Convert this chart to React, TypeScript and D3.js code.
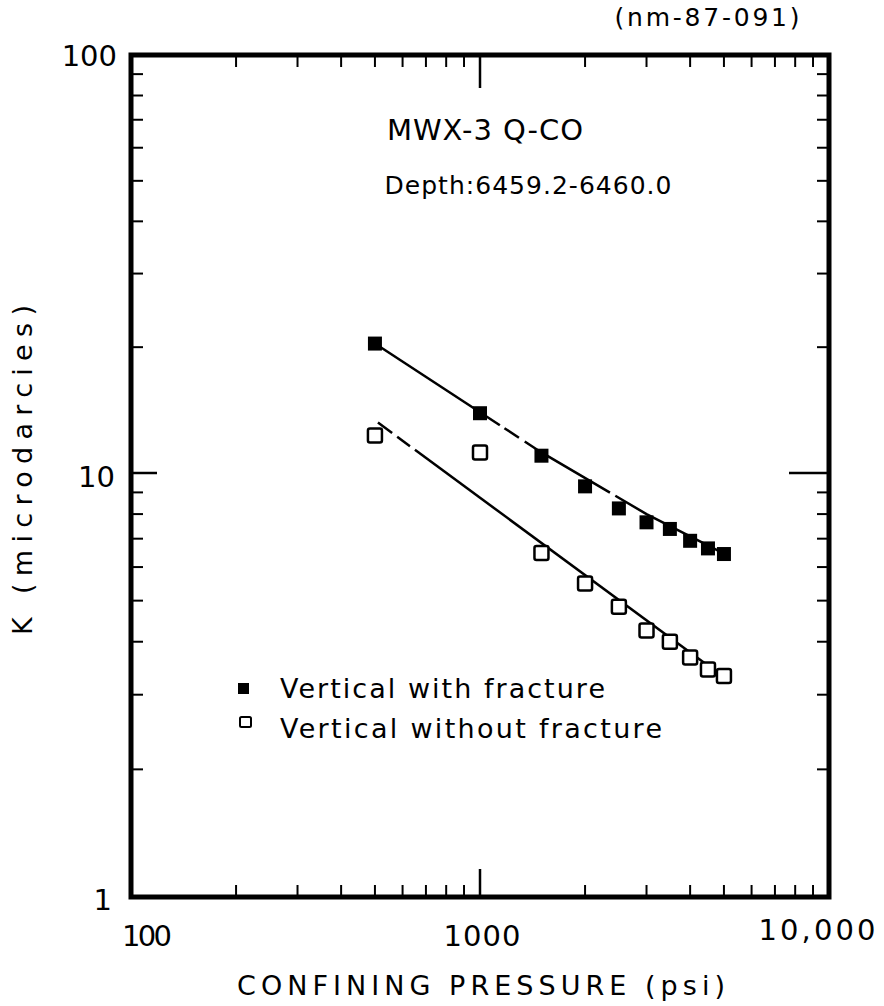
import React from "react";
import * as d3 from "d3";

// Confining pressure (psi) at which each permeability was measured
const pressures = [500, 1000, 1500, 2000, 2500, 3000, 3500, 4000, 4500, 5000];
// Permeability K (microdarcies), vertical plug with fracture
const withFracture = [20.4, 13.9, 11.0, 9.3, 8.25, 7.65, 7.38, 6.92, 6.64, 6.44];
// Permeability K (microdarcies), vertical plug without fracture
const withoutFracture = [12.3, 11.2, 6.48, 5.49, 4.84, 4.25, 4.0, 3.67, 3.44, 3.32];

// Hand-drawn trend lines: [pressure, K]
const fitWith: [number, number][] = [[500, 20.4], [1500, 11.2], [3000, 8.0], [5100, 6.4]];
const fitWithout: [number, number][] = [[510, 13.2], [4800, 3.38]];
// Pressure ranges where the pen lifted off the trend lines
const gapsWith: [number, number][] = [[1140, 1175], [1293, 1343], [2357, 2442]];
const gapsWithout: [number, number][] = [[560, 579], [630, 651]];

const xTickLabels = [
  { v: 100, t: "100" },
  { v: 1000, t: "1000" },
  { v: 10000, t: "10,000" },
];
const yTickLabels = [
  { v: 100, t: "100" },
  { v: 10, t: "10" },
  { v: 1, t: "1" },
];

const FONT = "'DejaVu Sans', sans-serif";

type Pt = [number, number];

// Split a pixel polyline into pieces, leaving out the given x-intervals.
function splitPolyline(pts: Pt[], gaps: [number, number][]): Pt[][] {
  const cuts = gaps.slice().sort((a, b) => a[0] - b[0]);
  const yAt = (xv: number): number => {
    for (let i = 0; i < pts.length - 1; i++) {
      const [x0, y0] = pts[i];
      const [x1, y1] = pts[i + 1];
      if (xv >= x0 && xv <= x1) return y0 + ((xv - x0) / (x1 - x0)) * (y1 - y0);
    }
    return pts[pts.length - 1][1];
  };
  const bounds: [number, number][] = [];
  let start = pts[0][0];
  for (const [a, b] of cuts) {
    bounds.push([start, a]);
    start = b;
  }
  bounds.push([start, pts[pts.length - 1][0]]);
  return bounds.map(([a, b]) => {
    const seg: Pt[] = [[a, yAt(a)]];
    for (const p of pts) if (p[0] > a && p[0] < b) seg.push(p);
    seg.push([b, yAt(b)]);
    return seg;
  });
}

export default function App() {
  const left = 131, right = 829, top = 55, bottom = 897;
  const x = d3.scaleLog().domain([100, 10000]).range([left, right]);
  const y = d3.scaleLog().domain([1, 10, 100]).range([bottom, 473, top]);

  const xMinor: number[] = [];
  for (const dec of [100, 1000]) for (let i = 2; i <= 9; i++) xMinor.push(dec * i);
  const yMinor: number[] = [];
  for (const dec of [1, 10]) for (let i = 2; i <= 9; i++) yMinor.push(dec * i);

  const line = d3.line<Pt>();
  const toPx = (d: Pt[]): Pt[] => d.map((p) => [x(p[0]), y(p[1])]);
  const gapPx = (g: [number, number][]): [number, number][] => g.map((r) => [x(r[0]), x(r[1])]);
  const segsWith = splitPolyline(toPx(fitWith), gapPx(gapsWith));
  const segsWithout = splitPolyline(toPx(fitWithout), gapPx(gapsWithout));

  const sq = 14;
  const xLabelPos = [
    { cx: 147, cy: 936, w: 50 },
    { cx: 482, cy: 936, w: 77 },
    { cx: 817, cy: 930, w: 117 },
  ];

  return (
    <svg width={884} height={1006} style={{ position: "absolute", left: 0, top: 0, background: "#fff" }}>
      <rect x={0} y={0} width={884} height={1006} fill="#fff" />
      {/* frame */}
      <rect x={left} y={top} width={right - left} height={bottom - top} fill="none" stroke="#000" strokeWidth={5} />

      {/* x ticks, top and bottom, pointing inward */}
      {xMinor.map((v) => (
        <g key={"xm" + v} stroke="#000" strokeWidth={2}>
          <line x1={x(v)} x2={x(v)} y1={top} y2={top + 12} />
          <line x1={x(v)} x2={x(v)} y1={bottom} y2={bottom - 12} />
        </g>
      ))}
      <line x1={x(1000)} x2={x(1000)} y1={top} y2={top + 33} stroke="#000" strokeWidth={2.5} />
      <line x1={x(1000)} x2={x(1000)} y1={bottom} y2={bottom - 28} stroke="#000" strokeWidth={2.5} />

      {/* y ticks, left and right, pointing inward */}
      {yMinor.map((v) => (
        <g key={"ym" + v} stroke="#000" strokeWidth={2}>
          <line x1={left} x2={left + 12} y1={y(v)} y2={y(v)} />
          <line x1={right} x2={right - 12} y1={y(v)} y2={y(v)} />
        </g>
      ))}
      <line x1={left} x2={left + 26} y1={y(10)} y2={y(10)} stroke="#000" strokeWidth={2.5} />
      <line x1={right} x2={right - 40} y1={y(10)} y2={y(10)} stroke="#000" strokeWidth={2.5} />

      {/* tick labels */}
      <g fontFamily={FONT} fontSize={29} fill="#000">
        {xTickLabels.map((d, i) => (
          <text
            key={d.t}
            x={xLabelPos[i].cx}
            y={xLabelPos[i].cy}
            textAnchor="middle"
            dominantBaseline="central"
            textLength={xLabelPos[i].w}
            lengthAdjust="spacing"
          >
            {d.t}
          </text>
        ))}
        {yTickLabels.map((d, i) => (
          <text
            key={d.t}
            x={i === 0 ? 117 : i === 1 ? 115 : 112}
            y={i === 0 ? 56 : i === 1 ? 477 : 900}
            textAnchor="end"
            dominantBaseline="central"
          >
            {d.t}
          </text>
        ))}
      </g>

      {/* axis titles */}
      <text x={481} y={985} fontFamily={FONT} fontSize={27} textAnchor="middle" dominantBaseline="central" textLength={488} lengthAdjust="spacing">
        CONFINING PRESSURE (psi)
      </text>
      <text
        transform="translate(22,470) rotate(-90)"
        fontFamily={FONT}
        fontSize={27}
        textAnchor="middle"
        dominantBaseline="central"
        textLength={330}
        lengthAdjust="spacing"
      >
        K (microdarcies)
      </text>
      <text x={707} y={17} fontFamily={FONT} fontSize={25} textAnchor="middle" dominantBaseline="central" textLength={185} lengthAdjust="spacing">
        (nm-87-091)
      </text>

      {/* heading inside the plot */}
      <text x={485} y={130} fontFamily={FONT} fontSize={29} textAnchor="middle" dominantBaseline="central" textLength={196} lengthAdjust="spacing">
        MWX-3 Q-CO
      </text>
      <text x={528} y={185} fontFamily={FONT} fontSize={25} textAnchor="middle" dominantBaseline="central" textLength={287} lengthAdjust="spacing">
        Depth:6459.2-6460.0
      </text>

      {/* trend lines */}
      {[...segsWith, ...segsWithout].map((s, i) => (
        <path key={"seg" + i} d={line(s) ?? ""} fill="none" stroke="#000" strokeWidth={2.5} />
      ))}

      {/* data points */}
      {pressures.map((p, i) => (
        <rect key={"w" + p} x={x(p) - sq / 2} y={y(withFracture[i]) - sq / 2} width={sq} height={sq} fill="#000" />
      ))}
      {pressures.map((p, i) => (
        <rect
          key={"o" + p}
          x={x(p) - sq / 2}
          y={y(withoutFracture[i]) - sq / 2}
          width={sq}
          height={sq}
          rx={2}
          fill="#fff"
          stroke="#000"
          strokeWidth={2.5}
        />
      ))}

      {/* legend */}
      <rect x={238} y={683} width={11} height={11} fill="#000" />
      <rect x={240} y={717} width={11} height={10} rx={1.5} fill="#fff" stroke="#000" strokeWidth={2} />
      <text x={280} y={688} fontFamily={FONT} fontSize={27} dominantBaseline="central" textLength={325} lengthAdjust="spacing">
        Vertical with fracture
      </text>
      <text x={280} y={728} fontFamily={FONT} fontSize={27} dominantBaseline="central" textLength={382} lengthAdjust="spacing">
        Vertical without fracture
      </text>
    </svg>
  );
}
